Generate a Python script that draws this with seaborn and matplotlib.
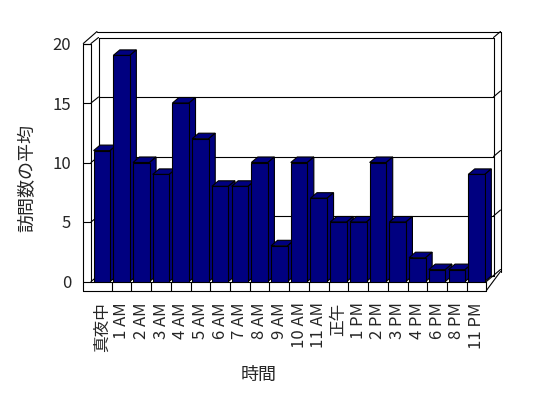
import matplotlib
matplotlib.use("Agg")
import matplotlib.pyplot as plt
import seaborn as sns
from matplotlib.lines import Line2D
from matplotlib.patches import Polygon
from matplotlib.transforms import IdentityTransform

# データ
hours = ['真夜中', '1 AM', '2 AM', '3 AM', '4 AM', '5 AM', '6 AM', '7 AM', '8 AM', '9 AM',
         '10 AM', '11 AM', '正午', '1 PM', '2 PM', '3 PM', '4 PM', '6 PM', '8 PM', '11 PM']
visits = [11, 19, 10, 9, 15, 12, 8, 8, 10, 3, 10, 7, 5, 5, 10, 5, 2, 1, 1, 9]
yticks = [0, 5, 10, 15, 20]

sns.set_theme(style="white")
plt.rcParams['font.family'] = ['Noto Sans CJK JP', 'DejaVu Sans']

W, H = 548, 398
fig = plt.figure(figsize=(W / 100, H / 100), dpi=100)
fig.patch.set_facecolor('white')

# 前面の枠 (ピクセル, 上から)
x0, x1 = 92.0, 486.4
y0, y1 = 281.5, 43.5
ax = fig.add_axes([x0 / W, 1 - y0 / H, (x1 - x0) / W, (y0 - y1) / H])
ax.patch.set_alpha(0)

sns.barplot(x=hours, y=visits, color='#000080', saturation=1, width=0.84,
            edgecolor='black', linewidth=0.8, ax=ax)
ax.set_xlim(-0.5, len(hours) - 0.5)
ax.set_ylim(0, 20)
for s in ax.spines.values():
    s.set_visible(False)

# 目盛りラベル
ax.set_yticks(yticks)
ax.set_yticklabels([str(v) for v in yticks], fontsize=12)
ax.tick_params(axis='y', length=0, pad=15)
ax.set_xticks(range(len(hours)))
ax.set_xticklabels(hours, rotation=90, fontsize=12)
ax.tick_params(axis='x', length=0, pad=15)
ax.set_xlabel('')
ax.set_ylabel('')

fig.text(27.7 / W, 1 - 178 / H, '訪問数の平均', rotation=90, fontsize=13,
         ha='center', va='center')
fig.text(259 / W, 1 - 375 / H, '時間', fontsize=13, ha='center', va='center')


def line(px, py, z=1):
    ax.add_line(Line2D([p / W for p in px], [1 - p / H for p in py],
                       transform=fig.transFigure, color='black', lw=0.8,
                       clip_on=False, zorder=z))


def ypx(v):
    return y0 - v * (y0 - y1) / 20


# 壁と床
lo, li = 83.3, 91.0      # 左の壁 前面
bx0, bx1 = 98.5, 493.5   # 奥の壁
dd = 6.0
floor_b = 290.5
line([lo, lo], [y1, floor_b])
line([li, li], [y1, y0])
line([lo, li], [y1, y1])
line([lo, bx0 - 1.5], [y1, y1 - 2 * dd])
line([bx0 - 1.5, bx1 + 7], [y1 - 2 * dd, y1 - 2 * dd])
line([bx1 + 7, bx1 + 7], [y1 - 2 * dd, y0 - 2 * dd + 2])
line([bx0, bx0], [y1 - dd, y0 - dd])
line([bx1, bx1], [y1 - dd, y0 - dd])
for v in yticks:
    yf = ypx(v)
    line([lo, li], [yf, yf])
    line([li, bx0], [yf, yf - dd])
    line([bx0, bx1], [yf - dd, yf - dd])
    line([bx1, bx1 + 7], [yf - dd, yf - 2 * dd])
# 床の前面
line([lo, x1], [floor_b, floor_b])
line([li, x1], [y0, y0])
line([x1, x1], [y0, floor_b])
line([x1, bx1 + 7], [floor_b, y0 - 2 * dd + 2])
line([x1, bx1], [y0, y0 - dd])
for i in range(len(hours) - 1):
    xs = x0 + (i + 1) * (x1 - x0) / len(hours)
    line([xs, xs], [y0, floor_b])

# 3D の棒 (上面・側面)
ddx, ddy = 6.5, 5.5
for i, p in enumerate(ax.patches):
    bx, bw, bh = p.get_x(), p.get_width(), p.get_height()
    (lx, by), (rx, ty) = ax.transData.transform([(bx, 0), (bx + bw, bh)])
    top = [(lx, ty), (rx, ty), (rx + ddx, ty + ddy), (lx + ddx, ty + ddy)]
    side = [(rx, by), (rx + ddx, by + ddy), (rx + ddx, ty + ddy), (rx, ty)]
    for pts in (top, side):
        ax.add_patch(Polygon(pts, closed=True, facecolor='#000080', edgecolor='black',
                             lw=0.8, transform=IdentityTransform(), clip_on=False,
                             zorder=3 + 2 * i))
    p.set_zorder(4 + 2 * i)

fig.savefig('out.png', dpi=100, facecolor='white')
